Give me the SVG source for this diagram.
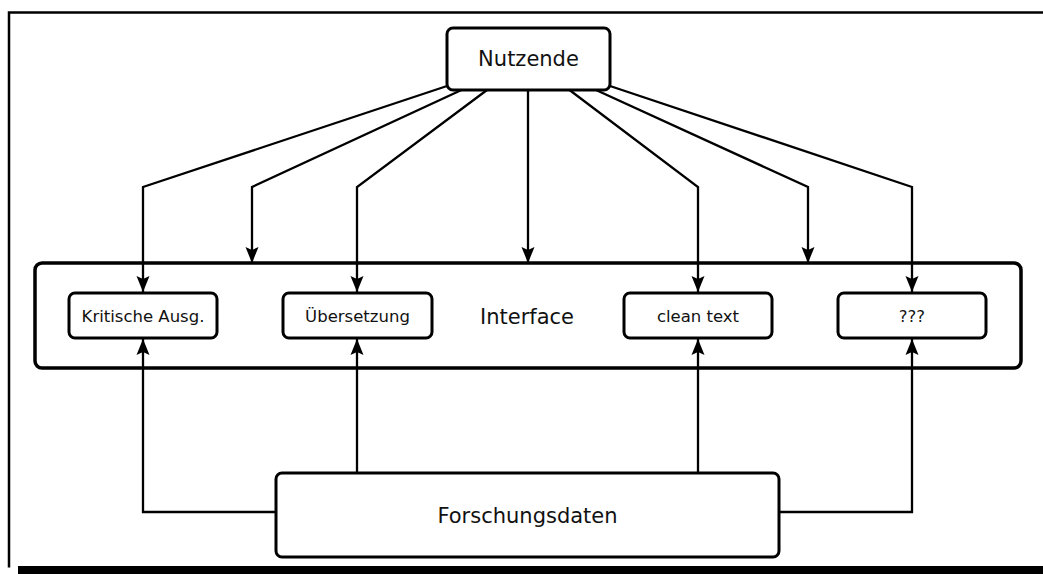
<svg xmlns="http://www.w3.org/2000/svg" width="1043" height="574" viewBox="0 0 1043 574">
  <defs>
    <style>
      .frame { fill: none; stroke: #000; stroke-width: 2.5; }
      .node { fill: #fff; stroke: #000; stroke-width: 3; }
      .panel { fill: #fff; stroke: #000; stroke-width: 3.5; }
      .edge { fill: none; stroke: #000; stroke-width: 2.3; marker-end: url(#arrow); }
      .big { font-family: "DejaVu Sans", "Liberation Sans", sans-serif; font-size: 21px; fill: #111; text-anchor: middle; dominant-baseline: central; }
      .small { font-family: "DejaVu Sans", "Liberation Sans", sans-serif; font-size: 16.5px; fill: #111; text-anchor: middle; dominant-baseline: central; }
    </style>
    <marker id="arrow" markerUnits="userSpaceOnUse" markerWidth="18" markerHeight="16" viewBox="0 0 18 16" refX="17" refY="8" orient="auto">
      <path d="M1,1.5 L17,8 L1,14.5 L4,8 Z" fill="#000"/>
    </marker>
  </defs>

  <rect width="1043" height="574" fill="#fff"/>

  <!-- page frame: top and left rules, heavy bottom bar -->
  <g id="frame">
    <path class="frame" d="M1043,12.5 H9 V567.5"/>
    <rect x="18" y="566" width="1025" height="8" fill="#000"/>
  </g>

  <!-- Interface panel (drawn below the connectors) -->
  <g id="interface">
    <rect class="panel" x="35" y="263" width="986" height="105" rx="7"/>
    <text class="big" x="527" y="317">Interface</text>
  </g>

  <g id="connectors">
    <!-- Nutzende to Interface and its views -->
    <path class="edge" d="M447,86 L143,187 V292"/>
    <path class="edge" d="M461.5,90 L252,187 V263"/>
    <path class="edge" d="M487,90 L357,187 V292"/>
    <path class="edge" d="M528,90 V263"/>
    <path class="edge" d="M569.5,90 L698,187 V292"/>
    <path class="edge" d="M596,90 L808,187 V263"/>
    <path class="edge" d="M610,86 L912,187 V292"/>
    <!-- Forschungsdaten up to the views -->
    <path class="edge" d="M276,512 H143 V339"/>
    <path class="edge" d="M357,473 V339"/>
    <path class="edge" d="M698,473 V339"/>
    <path class="edge" d="M779,512 H912 V339"/>
  </g>

  <g id="nutzende">
    <rect class="node" x="447" y="28" width="163" height="62" rx="6"/>
    <text class="big" x="528.5" y="59">Nutzende</text>
  </g>

  <g id="kritische-ausgabe">
    <rect class="node" x="69" y="293" width="148" height="45" rx="6"/>
    <text class="small" x="143" y="316">Kritische Ausg.</text>
  </g>

  <g id="uebersetzung">
    <rect class="node" x="283" y="293" width="149" height="45" rx="6"/>
    <text class="small" x="357.5" y="316">Übersetzung</text>
  </g>

  <g id="clean-text">
    <rect class="node" x="624" y="293" width="148" height="45" rx="6"/>
    <text class="small" x="698" y="316">clean text</text>
  </g>

  <g id="unknown">
    <rect class="node" x="838" y="293" width="148" height="45" rx="6"/>
    <text class="small" x="912" y="316">???</text>
  </g>

  <g id="forschungsdaten">
    <rect class="node" x="276" y="473" width="503" height="84" rx="6"/>
    <text class="big" x="527.5" y="516">Forschungsdaten</text>
  </g>
</svg>
